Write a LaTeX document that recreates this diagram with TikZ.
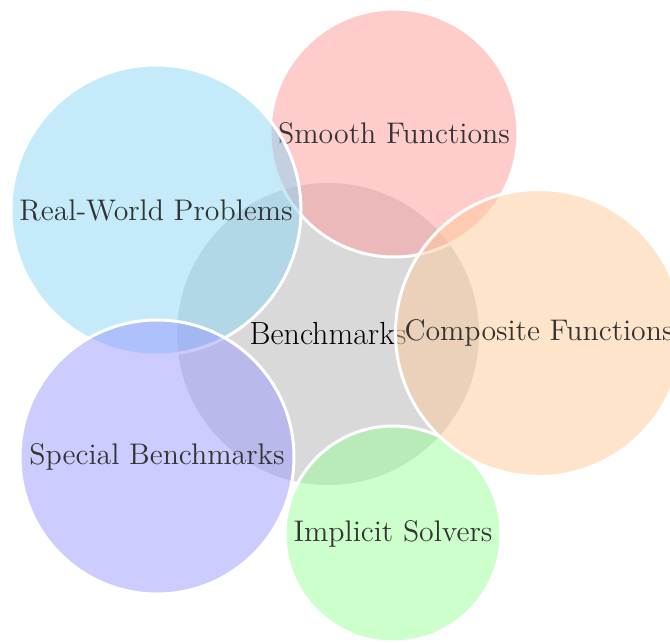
\documentclass[tikz,border=0pt]{standalone}
\usepackage{tikz}
\definecolor{cgray}{RGB}{128,128,128}
\definecolor{cred}{RGB}{255,153,153}
\definecolor{corange}{RGB}{255,201,153}
\definecolor{cgreen}{RGB}{153,255,153}
\definecolor{cblue}{RGB}{153,153,255}
\definecolor{ccyan}{RGB}{139,213,245}
\tikzset{
  hub/.style={circle, fill=cgray, fill opacity=0.3, text opacity=1, draw=none, inner sep=0pt, font=\fontsize{16}{18}\selectfont},
  leaf/.style={circle, fill=#1, fill opacity=0.5, draw=white, draw opacity=1, line width=1.5pt, text=black!80, text opacity=1, inner sep=0pt, font=\fontsize{14.9}{17}\selectfont},
}
\begin{document}
\begin{tikzpicture}[x=0.5pt,y=-0.5pt]
\useasboundingbox (0,0) rectangle (670,643);
\node[hub, minimum size=151pt] (c) at (328,334) {Benchmarks};
\node[leaf=cred, minimum size=124pt] (s) at (394,133) {Smooth Functions};
\node[leaf=ccyan, minimum size=145pt] (r) at (156,210) {Real-World Problems};
\node[leaf=cblue, minimum size=137pt] (sp) at (157,457) {Special Benchmarks};
\node[leaf=cgreen, minimum size=108pt] (i) at (393,534) {Implicit Solvers};
\node[leaf=corange, minimum size=143.5pt] (co) at (539,333) {Composite Functions};
\end{tikzpicture}
\end{document}
